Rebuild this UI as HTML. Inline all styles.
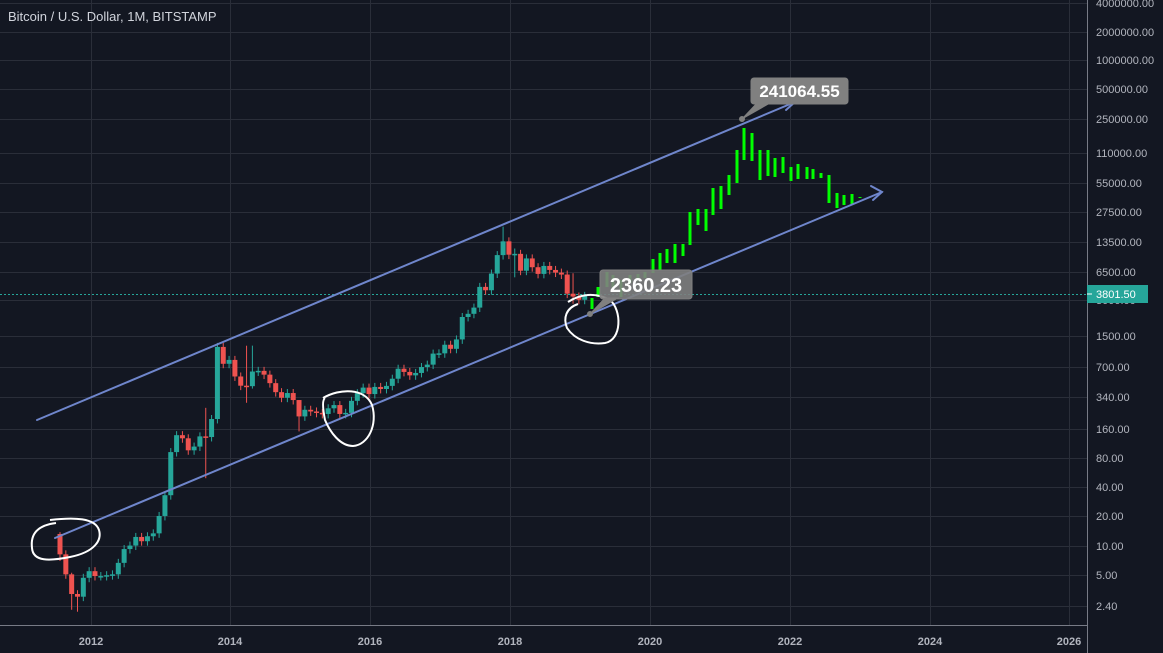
<!DOCTYPE html>
<html><head><meta charset="utf-8"><style>
html,body{margin:0;padding:0;background:#131722;width:1163px;height:653px;overflow:hidden;font-family:"Liberation Sans",sans-serif}
</style></head><body>
<svg id="s" width="1163" height="653" xmlns="http://www.w3.org/2000/svg" style="position:absolute;left:0;top:0">
<rect width="1163" height="653" fill="#131722"/>
<g id="grid" stroke="#2a2e39" stroke-width="1"></g>
<line x1="0" y1="294.5" x2="1087" y2="294.5" stroke="#26a69a" stroke-dasharray="2,2"/>
<g id="c"></g>
<g id="g" fill="#00ff00"></g>
<g stroke="#6f86cc" stroke-width="2" fill="none" stroke-linecap="round">
<line x1="37" y1="420" x2="795" y2="102"/>
<polyline points="784,96 795,102 786,110"/>
<line x1="55" y1="538" x2="882" y2="192"/>
<polyline points="871,186 882,192 873,200"/>
</g>
<g stroke="#fff" stroke-width="2" fill="none">
<path d="M56,523 C40,525 30,532 32,548 C33,562 50,561 70,557 C95,552 102,540 99,530 C95,518 75,517 50,520"/>
<path d="M323,398 C340,388 365,388 372,405 C378,425 368,445 353,446 C340,446 330,432 325,420 C323,410 322,400 325,398"/>
<path d="M568,302 C580,294 595,292 610,300 C622,310 622,340 605,343 C590,345 575,340 567,328 C563,318 566,308 578,304"/>
</g>
<g fill="#808080" stroke="#808080">
<polygon points="742,119 757,103 770,103" />
<circle cx="742" cy="119" r="2.5"/>
<rect x="751" y="78" width="97" height="26" rx="3"/>
<polygon points="590,314 605,298 618,298"/>
<circle cx="590" cy="314" r="2.5"/>
<rect x="600" y="270" width="92" height="29" rx="3" fill-opacity="0.9"/>
</g>
<text x="799.5" y="97" fill="#fff" font-size="17" font-weight="bold" text-anchor="middle">241064.55</text>
<text x="646" y="292" fill="#fff" font-size="20" font-weight="bold" text-anchor="middle">2360.23</text>
<rect x="1087" y="0" width="76" height="653" fill="#131722"/>
<line x1="1087.5" y1="0" x2="1087.5" y2="653" stroke="#787b86"/>
<line x1="0" y1="625.5" x2="1087" y2="625.5" stroke="#787b86"/>
<g id="yl" fill="#b2b5be" font-size="11"></g>
<g id="xl" fill="#b2b5be" font-size="11" font-weight="bold" text-anchor="middle">
<text x="91" y="645">2012</text><text x="230" y="645">2014</text><text x="370" y="645">2016</text><text x="510" y="645">2018</text><text x="650" y="645">2020</text><text x="790" y="645">2022</text><text x="930" y="645">2024</text><text x="1069" y="645">2026</text>
</g>
<rect x="1087" y="285" width="61" height="18" fill="#26a69a"/>
<line x1="1087" y1="294" x2="1092" y2="294" stroke="#fff"/>
<text x="1096" y="298" fill="#fff" font-size="11">3801.50</text>
<text x="8" y="21" fill="#d1d4dc" font-size="13">Bitcoin / U.S. Dollar, 1M, BITSTAMP</text>
</svg>
<script>
var NS="http://www.w3.org/2000/svg";
function el(p,t,a,txt){var e=document.createElementNS(NS,t);for(var k in a)e.setAttribute(k,a[k]);if(txt)e.textContent=txt;document.getElementById(p).appendChild(e);}
function Y(p){return 546-29.19*Math.log2(p/10);}
[91,230,370,510,650,790,930,1069].forEach(function(x){el("grid","line",{x1:x+.5,y1:0,x2:x+.5,y2:625,stroke:"#2a2e39"});});
var labs=[[3,"4000000.00"],[32,"2000000.00"],[60,"1000000.00"],[89,"500000.00"],[119,"250000.00"],[153,"110000.00"],[183,"55000.00"],[212,"27500.00"],[242,"13500.00"],[272,"6500.00"],[300,"3000.00"],[336,"1500.00"],[367,"700.00"],[397,"340.00"],[429,"160.00"],[458,"80.00"],[487,"40.00"],[516,"20.00"],[546,"10.00"],[575,"5.00"],[606,"2.40"]];
labs.forEach(function(l){el("grid","line",{x1:0,y1:l[0]+.5,x2:1087,y2:l[0]+.5});el("grid","line",{x1:1087,y1:l[0]+.5,x2:1092,y2:l[0]+.5,stroke:"#787b86"});el("yl","text",{x:1096,y:l[0]+4},l[1]);});
var cl=[8.2,5.1,3.2,3.0,4.7,
5.5,4.9,4.9,5.0,5.1,6.7,9.3,10.1,12.4,11.2,12.6,13.5,
20.4,33.4,93,139,129,97,106,135,133,204,1130,757,
830,560,450,445,630,640,585,478,386,338,378,320,
217,254,244,236,230,263,284,230,236,314,377,430,
369,437,416,448,531,673,624,575,609,701,742,964,
970,1190,1080,1350,2300,2480,2875,4700,4340,6450,10000,13860,
10100,10300,6900,9240,7500,6400,7730,7030,6600,6300,4000,3740,3460,3801];
var ov={0:[13.9,7],2:[5.3,2.2],3:[3.5,2.1],25:[266,50],32:[1163,300],33:[1165,420],41:[320,152],76:[19666,9000],78:[11700,5900],88:[6500,3150]};
var o=13.3;
for(var i=0;i<cl.length;i++){var c=cl[i];var x=60+i*5.83;
var h=Math.max(o,c)*1.1,l=Math.min(o,c)*0.9;if(ov[i]){h=ov[i][0];l=ov[i][1];}
var col=c>=o?"#26a69a":"#ef5350";
el("c","line",{x1:x,y1:Y(h),x2:x,y2:Y(l),stroke:col,"stroke-width":1});
var t=Y(Math.max(o,c)),b=Y(Math.min(o,c));if(b-t<1.5)b=t+1.5;
el("c","rect",{x:x-2.5,y:t,width:5,height:b-t,fill:col});o=c;}
var gb=[[592,298,309],[598,287,297],[607,272,287],[613,275,290],[621,280,297],[630,275,283],[638,274,280],[645,272,278],[653,259,273],[660,253,270],[667,249,263],[675,244,263],[683,244,256],[690,212,245],[698,209,225],[706,209,231],[713,188,215],[721,186,209],[729,175,195],[737,150,183],[744,128,160],[752,133,161],[760,150,180],[768,150,176],[775,158,177],[783,157,173],[791,167,181],[798,164,179],[807,167,179],[813,169,179],[821,173,178],[829,175,203],[837,193,208],[844,195,205],[852,194,205],[860,197,198]];
gb.forEach(function(g){el("g","rect",{x:g[0]-1.5,y:g[1],width:3,height:g[2]-g[1]});});
</script>
</body></html>
